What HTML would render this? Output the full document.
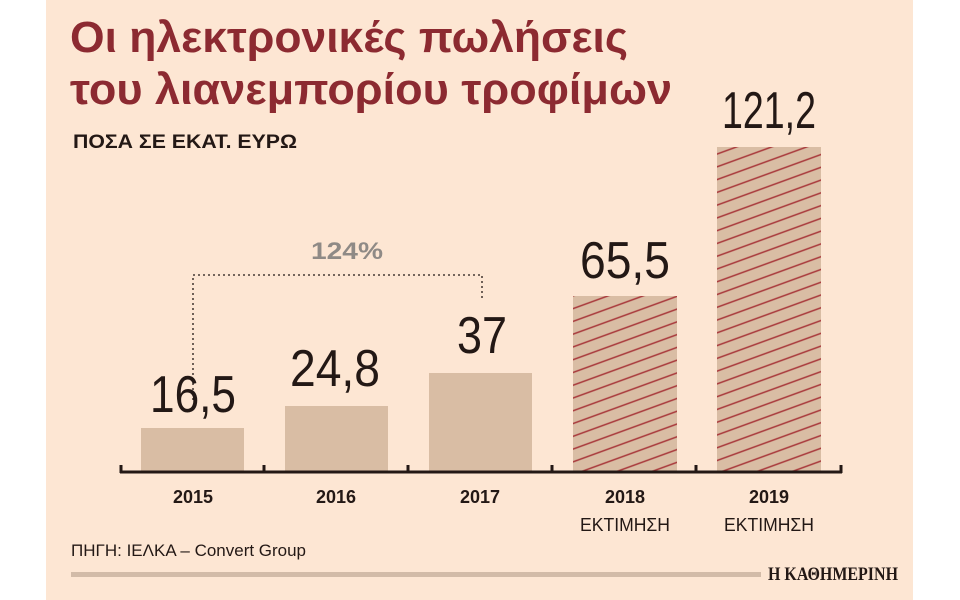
<!DOCTYPE html>
<html><head><meta charset="utf-8"><style>
html,body{margin:0;padding:0;background:#fff;}
svg{display:block;}
text{font-family:"Liberation Sans",sans-serif;}
</style></head><body>
<svg width="960" height="600" viewBox="0 0 960 600">
<defs>
<pattern id="h" patternUnits="userSpaceOnUse" width="30" height="12" patternTransform="rotate(-20)">
<rect width="30" height="12" fill="#d9bda4"/>
<line x1="0" y1="6" x2="30" y2="6" stroke="#a8373a" stroke-width="1.6"/>
</pattern>
</defs>
<rect x="46" y="0" width="867" height="600" fill="#fde6d3"/>
<text x="70" y="52" font-size="44" font-weight="bold" fill="#8c2a31" textLength="558" lengthAdjust="spacingAndGlyphs">Οι ηλεκτρονικές πωλήσεις</text>
<text x="70" y="104" font-size="44" font-weight="bold" fill="#8c2a31" textLength="602" lengthAdjust="spacingAndGlyphs">του λιανεμπορίου τροφίμων</text>
<text x="73" y="148" font-size="19" font-weight="bold" fill="#231815" textLength="224" lengthAdjust="spacingAndGlyphs">ΠΟΣΑ ΣΕ ΕΚΑΤ. ΕΥΡΩ</text>

<rect x="141" y="428" width="103" height="44" fill="#d9bda4"/>
<rect x="285" y="406" width="103" height="66" fill="#d9bda4"/>
<rect x="429" y="373" width="103" height="99" fill="#d9bda4"/>
<rect x="573" y="296" width="104" height="176" fill="url(#h)"/>
<rect x="717" y="147" width="104" height="325" fill="url(#h)"/>

<path d="M120 472 H842 M121 465 V473 M264 465 V473 M408 465 V473 M552 465 V473 M696 465 V473 M841 465 V473" stroke="#231815" stroke-width="3" fill="none"/>

<g font-size="52" fill="#231815">
<text x="150" y="412" textLength="86" lengthAdjust="spacingAndGlyphs">16,5</text>
<text x="290" y="386" textLength="90" lengthAdjust="spacingAndGlyphs">24,8</text>
<text x="457" y="353" textLength="50" lengthAdjust="spacingAndGlyphs">37</text>
<text x="580" y="278" textLength="90" lengthAdjust="spacingAndGlyphs">65,5</text>
<text x="722" y="128" textLength="94" lengthAdjust="spacingAndGlyphs">121,2</text>
</g>

<path d="M193 400 V275 H482 V298" stroke="#231815" stroke-width="1.3" stroke-dasharray="2,3" fill="none" transform="translate(0,0)"/>
<text x="311" y="259" font-size="24" font-weight="bold" fill="#8f8a86" textLength="72" lengthAdjust="spacingAndGlyphs">124%</text>

<g font-size="18" font-weight="bold" fill="#231815" text-anchor="middle">
<text x="193" y="503">2015</text>
<text x="336" y="503">2016</text>
<text x="480" y="503">2017</text>
<text x="625" y="503">2018</text>
<text x="769" y="503">2019</text>
</g>
<g font-size="18" fill="#231815" text-anchor="middle">
<text x="625" y="531" textLength="90" lengthAdjust="spacingAndGlyphs">ΕΚΤΙΜΗΣΗ</text>
<text x="769" y="531" textLength="90" lengthAdjust="spacingAndGlyphs">ΕΚΤΙΜΗΣΗ</text>
</g>
<text x="71" y="556" font-size="17" fill="#231815" textLength="235" lengthAdjust="spacingAndGlyphs">ΠΗΓΗ: ΙΕΛΚΑ – Convert Group</text>
<rect x="71" y="572" width="690" height="5" fill="#d2bba8"/>
<text x="768" y="580" font-size="19" font-family="Liberation Serif,serif" font-weight="bold" fill="#231815" textLength="130" lengthAdjust="spacingAndGlyphs" style="font-family:'Liberation Serif',serif">Η ΚΑΘΗΜΕΡΙΝΗ</text>
</svg>
</body></html>
